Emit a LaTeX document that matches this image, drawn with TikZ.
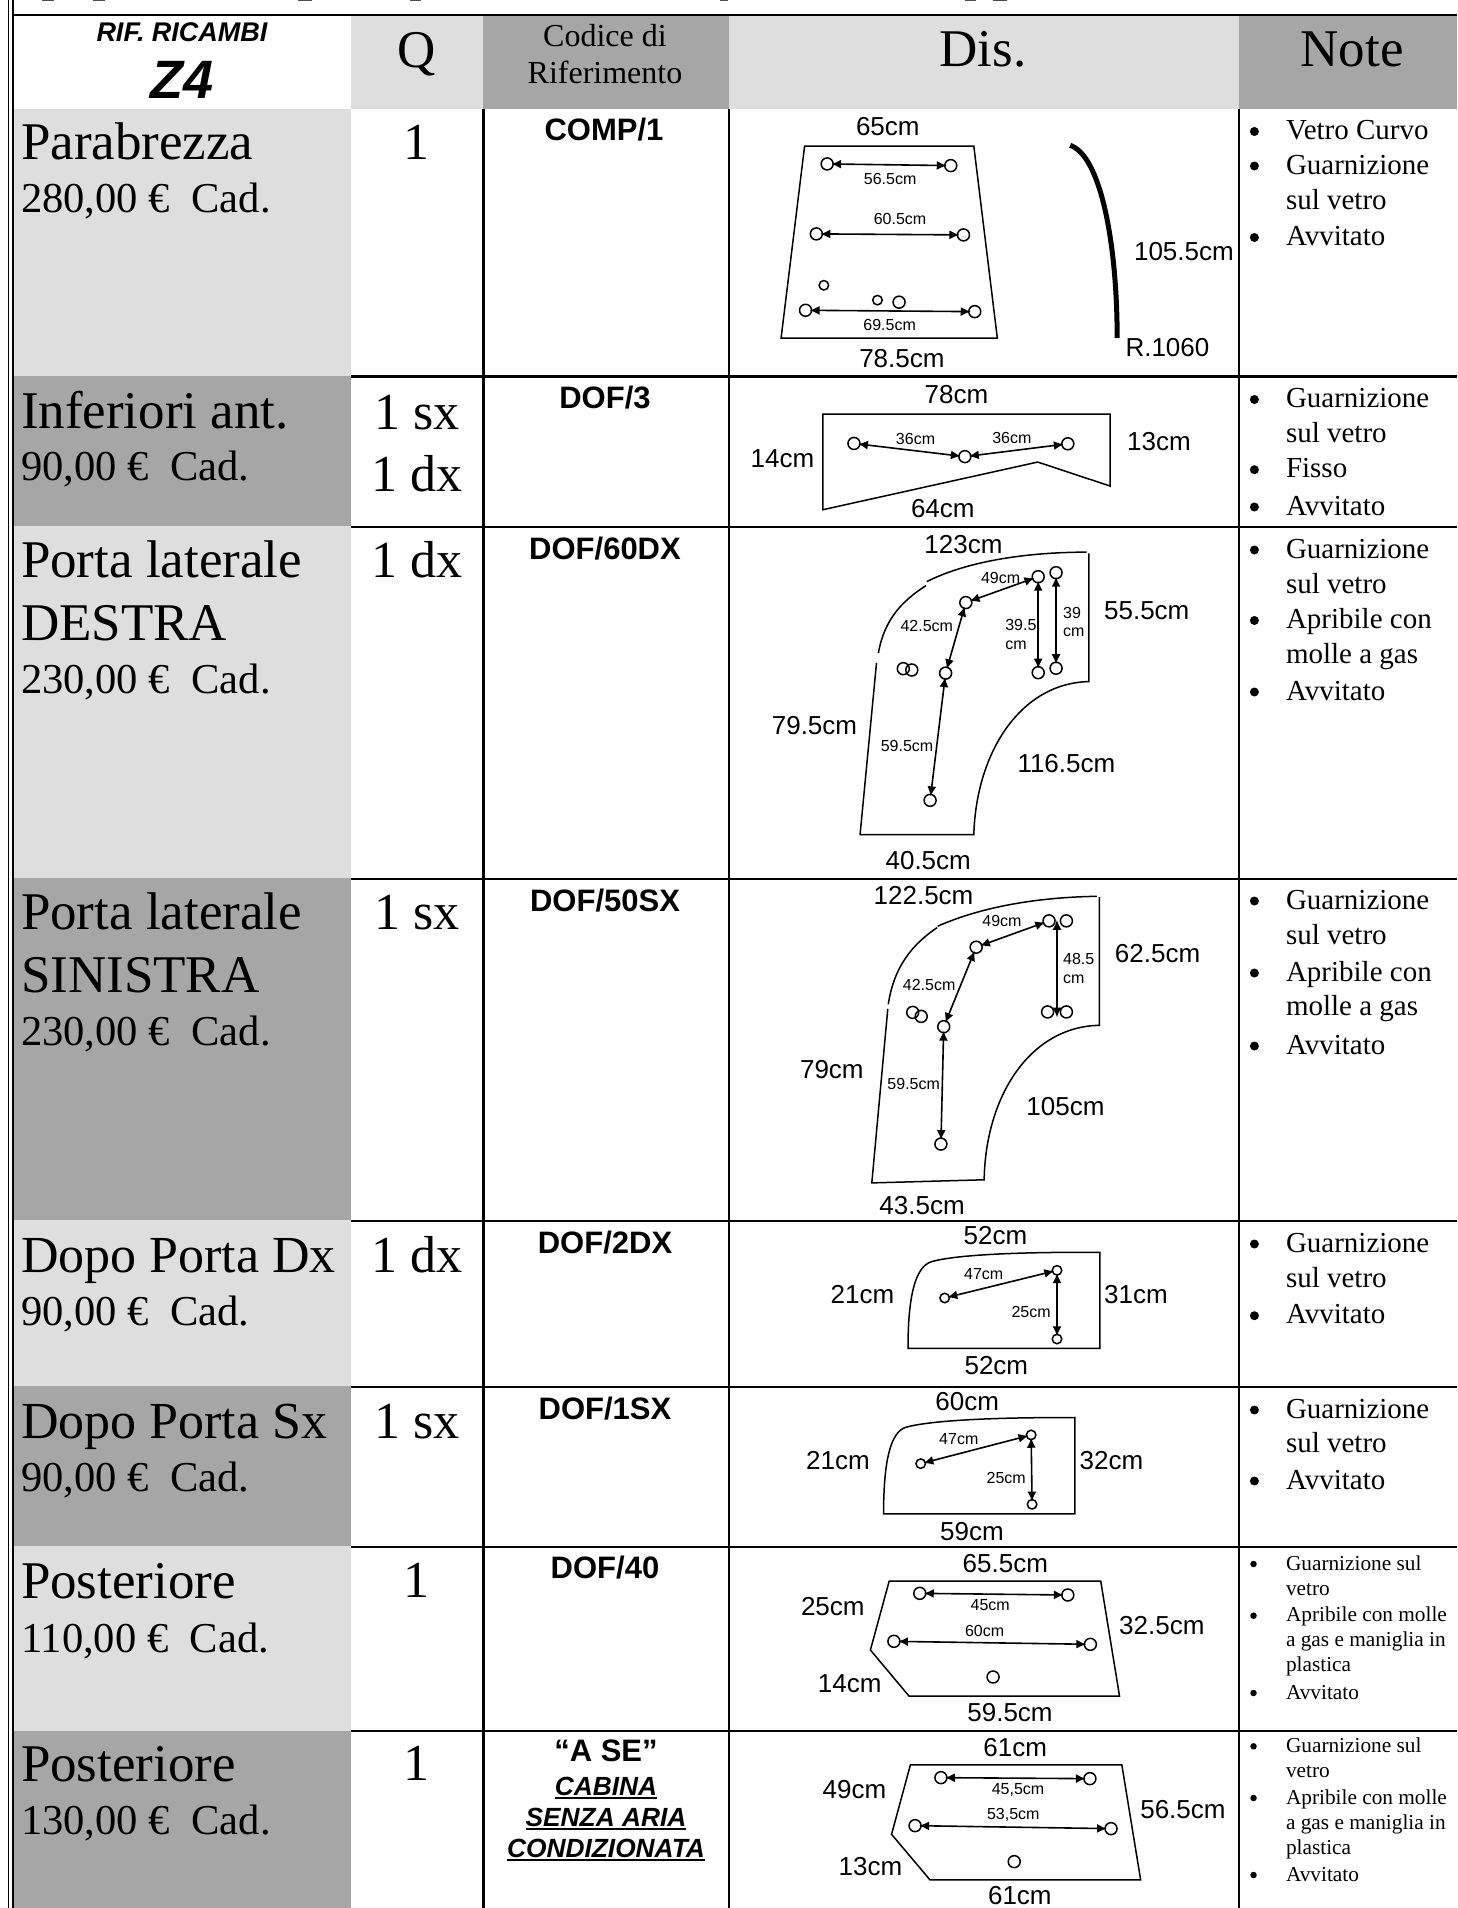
\documentclass[tikz,border=0pt]{standalone}
\usepackage{fontspec}
\setmainfont{Liberation Serif}
\setsansfont{Liberation Sans}
\usetikzlibrary{arrows.meta}
\definecolor{lightcell}{HTML}{DEDEDE}
\definecolor{darkcell}{HTML}{A6A6A6}
\newcounter{tn}
\newcommand\T[3]{\stepcounter{tn}\node[#1] (t\arabic{tn}) at (#2) {#3};}
\newcommand\NB[2]{\stepcounter{tn}\node[bullet] (t\arabic{tn}) at (1254.4,#1-8) {};\T{notetxt}{1286,#1}{#2}}
\newcommand\NC[2]{\T{notetxt}{1286,#1}{#2}}
\newcommand\SB[2]{\stepcounter{tn}\node[sbullet] (t\arabic{tn}) at (1253.5,#1-6) {};\T{snotetxt}{1286,#1}{#2}}
\newcommand\SC[2]{\T{snotetxt}{1286,#1}{#2}}
\newcommand\ulx[1]{\setbox0\hbox{#1}\rlap{\rule[-4pt]{\wd0}{2pt}}\box0}
\tikzset{
  allnodes/.style={inner sep=0pt,outer sep=0pt},
  nametxt/.style={allnodes,anchor=base west,font={\fontsize{53pt}{53pt}\selectfont}},
  namenarrow/.style={allnodes,anchor=base west,font={\fontsize{52pt}{52pt}\selectfont}},
  pricetxt/.style={allnodes,anchor=base west,font={\fontsize{42.6pt}{42pt}\selectfont}},
  qtytxt/.style={allnodes,anchor=base,font={\fontsize{52pt}{52pt}\selectfont}},
  headtxt/.style={allnodes,anchor=base,font={\fontsize{53pt}{53pt}\selectfont}},
  headsmall/.style={allnodes,anchor=base,font={\fontsize{32pt}{32pt}\selectfont}},
  codetxt/.style={allnodes,anchor=base,font={\sffamily\bfseries\fontsize{31pt}{31pt}\selectfont}},
  codeit/.style={allnodes,anchor=base,font={\sffamily\bfseries\itshape\fontsize{26.3pt}{26pt}\selectfont}},
  notetxt/.style={allnodes,anchor=base west,font={\fontsize{29pt}{29pt}\selectfont}},
  snotetxt/.style={allnodes,anchor=base west,font={\fontsize{21.3pt}{21pt}\selectfont}},
  bullet/.style={allnodes,circle,fill=black,minimum size=9pt},
  sbullet/.style={allnodes,circle,fill=black,minimum size=6.5pt},
  biglab/.style={allnodes,anchor=base,font={\sffamily\fontsize{26pt}{26pt}\selectfont}},
  smalab/.style={allnodes,anchor=base,font={\sffamily\fontsize{16pt}{16pt}\selectfont}},
  smaleft/.style={allnodes,anchor=base west,font={\sffamily\fontsize{16pt}{16pt}\selectfont}},
  hole/.style={allnodes,circle,draw=black,line width=1.5pt,minimum size=12pt},
  shole/.style={allnodes,circle,draw=black,line width=1.5pt,minimum size=9.5pt},
  dimline/.style={<->,>={Latex[length=10pt,width=9pt]},line width=1.6pt,shorten <=-2pt,shorten >=-2pt},
  outl/.style={line width=1.5pt,line join=miter},
  grid/.style={line width=2.2pt},
}
\begin{document}
\begin{tikzpicture}[x=1pt,y=-1pt]
\useasboundingbox (0,0) rectangle (1457,1908);
% cell fills
\fill[lightcell] (351,15) rectangle (483,109);
\fill[darkcell] (483,15) rectangle (728.5,109);
\fill[lightcell] (728.5,15) rectangle (1239,109);
\fill[darkcell] (1239,15) rectangle (1457,109);
\fill[lightcell] (13,109) rectangle (351,376);
\fill[darkcell] (13,376) rectangle (351,526);
\fill[lightcell] (13,526) rectangle (351,878);
\fill[darkcell] (13,878) rectangle (351,1220);
\fill[lightcell] (13,1220) rectangle (351,1386);
\fill[darkcell] (13,1386) rectangle (351,1546);
\fill[lightcell] (13,1546) rectangle (351,1730.5);
\fill[darkcell] (13,1730.5) rectangle (351,1908);
% clipped remains of a line above the table
\foreach \a/\b in {42/54,93/105,298/312,410/421,720/728,965/976,993/1007}
  \draw[line width=1.4pt,black!70] (\a,0) -- (\b,0);
% grid
\draw[line width=1.6pt] (8.5,0) -- (8.5,1908);
\draw[line width=1.6pt] (13.2,0) -- (13.2,1908);
\draw[line width=2.6pt] (13,15) -- (1457,15);
\foreach \y in {376.5,527,879,1220.7,1386.7,1546.7,1730.8}
  \draw[grid] (351,\y) -- (1457,\y);
\foreach \x in {483.5,728.7,1239}
  \draw[grid] (\x,109) -- (\x,1908);

% header
\T{allnodes,anchor=base,font={\sffamily\bfseries\itshape\fontsize{27pt}{27pt}\selectfont}}{182,42}{RIF. RICAMBI}
\T{allnodes,anchor=base,font={\sffamily\bfseries\itshape\fontsize{54pt}{54pt}\selectfont}}{182,99}{Z4}
\T{headtxt}{417,68}{Q}
\T{headsmall}{605,47}{Codice di}
\T{headsmall}{605,84}{Riferimento}
\T{headtxt}{983,67}{Dis.}
\T{headtxt}{1352,67}{Note}

% first column
\T{nametxt}{21,159}{Parabrezza}
\T{pricetxt}{21,212}{280,00 €~~Cad.}
\T{nametxt}{21,428}{Inferiori ant.}
\T{pricetxt}{21,480}{90,00 €~~Cad.}
\T{nametxt}{21,577}{Porta laterale}
\T{nametxt}{21,640.4}{DESTRA}
\T{pricetxt}{21,693.6}{230,00 €~~Cad.}
\T{nametxt}{21,929.5}{Porta laterale}
\T{nametxt}{21,992.6}{SINISTRA}
\T{pricetxt}{21,1045.8}{230,00 €~~Cad.}
\T{namenarrow}{21,1272}{Dopo Porta Dx}
\T{pricetxt}{21,1325}{90,00 €~~Cad.}
\T{namenarrow}{21,1438}{Dopo Porta Sx}
\T{pricetxt}{21,1491}{90,00 €~~Cad.}
\T{nametxt}{21,1598}{Posteriore}
\T{pricetxt}{21,1652}{110,00 €~~Cad.}
\T{nametxt}{21,1781}{Posteriore}
\T{pricetxt}{21,1834}{130,00 €~~Cad.}

% quantity column
\T{qtytxt}{416.5,159}{1}
\T{qtytxt}{417,429}{1 sx}
\T{qtytxt}{417,491.5}{1 dx}
\T{qtytxt}{417,577}{1 dx}
\T{qtytxt}{417,929.5}{1 sx}
\T{qtytxt}{417,1272}{1 dx}
\T{qtytxt}{417,1438}{1 sx}
\T{qtytxt}{416.5,1597}{1}
\T{qtytxt}{416.5,1780}{1}

% code column
\T{codetxt}{604,141}{COMP/1}
\T{codetxt}{605,408.4}{DOF/3}
\T{codetxt}{605,559}{DOF/60DX}
\T{codetxt}{605,911}{DOF/50SX}
\T{codetxt}{605,1253}{DOF/2DX}
\T{codetxt}{605,1419}{DOF/1SX}
\T{codetxt}{605,1578}{DOF/40}
\T{codetxt}{606,1761}{“A SE”}
\T{codeit}{606,1795}{\ulx{CABINA}}
\T{codeit}{606,1826}{\ulx{SENZA ARIA}}
\T{codeit}{606,1857}{\ulx{CONDIZIONATA}}

% notes column
\NB{139.5}{Vetro Curvo}
\NB{174}{Guarnizione}
\NC{209.6}{sul vetro}
\NB{245.5}{Avvitato}
\NB{407.5}{Guarnizione}
\NC{442}{sul vetro}
\NB{477.7}{Fisso}
\NB{515}{Avvitato}
\NB{558}{Guarnizione}
\NC{593}{sul vetro}
\NB{628.5}{Apribile con}
\NC{663.5}{molle a gas}
\NB{700}{Avvitato}
\NB{909}{Guarnizione}
\NC{944}{sul vetro}
\NB{981}{Apribile con}
\NC{1015.5}{molle a gas}
\NB{1054}{Avvitato}
\NB{1252}{Guarnizione}
\NC{1287}{sul vetro}
\NB{1323.7}{Avvitato}
\NB{1418}{Guarnizione}
\NC{1452.7}{sul vetro}
\NB{1489}{Avvitato}
\SB{1570}{Guarnizione sul}
\SC{1595}{vetro}
\SB{1621.7}{Apribile con molle}
\SC{1646.7}{a gas e maniglia in}
\SC{1671.7}{plastica}
\SB{1699}{Avvitato}
\SB{1752.3}{Guarnizione sul}
\SC{1777}{vetro}
\SB{1804}{Apribile con molle}
\SC{1829}{a gas e maniglia in}
\SC{1854}{plastica}
\SB{1881}{Avvitato}

% ---------- drawings, rows 1-2
\begin{scope}[shift={(720,0)},x=0.47pt,y=-0.338pt]
  \draw[outl] (180,432) -- (540,432) -- (590,1000) -- (130,1000) -- cycle;
  \node[hole] (pa) at (228,485) {};
  \node[hole] (pb) at (491,490) {};
  \node[hole] (pc) at (205,692) {};
  \node[hole] (pd) at (518,695) {};
  \node[hole] (pe) at (182,918) {};
  \node[hole] (pf) at (542,922) {};
  \node[shole] (pg) at (221,844) {};
  \node[shole] (ph) at (335,888) {};
  \node[hole] (pi) at (381,894) {};
  \draw[dimline] (pa) -- (pb);
  \draw[dimline] (pc) -- (pd);
  \draw[dimline] (pe) -- (pf);
  \T{smalab}{362,545}{56.5cm}
  \T{smalab}{383,663}{60.5cm}
  \T{smalab}{361,977}{69.5cm}
  \T{biglab}{357,402}{65cm}
  \T{biglab}{387,1088}{78.5cm}
  \T{biglab}{987,772}{105.5cm}
  \T{biglab}{952,1055}{R.1060}
  \draw[line width=5pt] (745,430) .. controls (810,460) and (845,720) .. (845,1000);
  % row 2
  \draw[outl] (219,1225) -- (830,1225) -- (830,1438) -- (676,1367) -- (219,1508) -- cycle;
  \node[hole] (ia) at (285,1312) {};
  \node[hole] (ib) at (521,1351) {};
  \node[hole] (ic) at (740,1313) {};
  \draw[dimline] (ia) -- (ib);
  \draw[dimline] (ib) -- (ic);
  \T{smalab}{416,1315}{36cm}
  \T{smalab}{621,1312}{36cm}
  \T{biglab}{503,1195}{78cm}
  \T{biglab}{133,1382}{14cm}
  \T{biglab}{934,1334}{13cm}
  \T{biglab}{474,1532}{64cm}
\end{scope}

% ---------- doors
\begin{scope}[shift={(720,520)},x=0.47pt,y=-0.4464pt]
  \draw[outl] (440,138) .. controls (540,85) and (680,72) .. (780,72);
  \draw[outl] (785,75) -- (785,362) .. controls (640,365) and (545,520) .. (540,705) -- (298,705) -- (333,320);
  \draw[outl] (337,298) .. controls (350,220) and (390,180) .. (438,147);
  \node[hole] (da) at (677,127) {};
  \node[hole] (db) at (715,118) {};
  \node[hole] (dc) at (523,185) {};
  \node[hole] (dd) at (480,343) {};
  \node[hole] (de) at (447,628) {};
  \node[hole] (df) at (677,342) {};
  \node[hole] (dg) at (715,332) {};
  \node[hole] (dh) at (390,333) {};
  \node[hole] (di) at (408,336) {};
  \draw[dimline] (dc) -- (da);
  \draw[dimline] (dc) -- (dd);
  \draw[dimline] (dd) -- (de);
  \draw[dimline] (da) -- (df);
  \draw[dimline] (db) -- (dg);
  \T{smalab}{597,142}{49cm}
  \T{smalab}{440,250}{42.5cm}
  \T{smalab}{398,518}{59.5cm}
  \T{smaleft}{607,248}{39.5}
  \T{smaleft}{607,290}{cm}
  \T{smaleft}{730,220}{39}
  \T{smaleft}{730,262}{cm}
  \T{biglab}{518,75}{123cm}
  \T{biglab}{908,222}{55.5cm}
  \T{biglab}{201,480}{79.5cm}
  \T{biglab}{737,565}{116.5cm}
  \T{biglab}{443,782}{40.5cm}
  % left door
  \draw[outl] (463,910) .. controls (560,865) and (680,845) .. (802,843);
  \draw[outl] (807,845) -- (807,1132) .. controls (660,1135) and (565,1290) .. (562,1478) -- (323,1485) -- (357,1095);
  \draw[outl] (358,1085) .. controls (370,1000) and (410,950) .. (462,913);
  \node[hole] (sa) at (700,898) {};
  \node[hole] (sb) at (737,898) {};
  \node[hole] (sc) at (545,957) {};
  \node[hole] (sd) at (476,1135) {};
  \node[hole] (se) at (470,1398) {};
  \node[hole] (sf) at (697,1102) {};
  \node[hole] (sg) at (737,1102) {};
  \node[hole] (sh) at (410,1103) {};
  \node[hole] (si) at (428,1112) {};
  \coordinate (sj) at (717,900);
  \coordinate (sk) at (717,1110);
  \draw[dimline] (sc) -- (sa);
  \draw[dimline] (sc) -- (sd);
  \draw[dimline] (sd) -- (se);
  \draw[dimline] (sj) -- (sk);
  \T{smalab}{600,910}{49cm}
  \T{smalab}{445,1053}{42.5cm}
  \T{smalab}{412,1275}{59.5cm}
  \T{smaleft}{730,995}{48.5}
  \T{smaleft}{730,1038}{cm}
  \T{biglab}{433,862}{122.5cm}
  \T{biglab}{931,992}{62.5cm}
  \T{biglab}{238,1250}{79cm}
  \T{biglab}{735,1335}{105cm}
  \T{biglab}{430,1555}{43.5cm}
\end{scope}

% ---------- rows 5-6
\begin{scope}[shift={(720,1210)},x=0.47pt,y=-0.3333pt]
  \draw[outl] (400,415) -- (808,415) -- (808,127) -- (740,127) .. controls (620,128) and (500,135) .. (450,155) .. controls (415,170) and (400,260) .. (400,415) -- cycle;
  \node[shole] (ea) at (478,264) {};
  \node[shole] (eb) at (717,181) {};
  \node[shole] (ec) at (717,387) {};
  \draw[dimline] (ea) -- (eb);
  \draw[dimline] (eb) -- (ec);
  \T{smalab}{561,208}{47cm}
  \T{smalab}{662,323}{25cm}
  \T{biglab}{586,103}{52cm}
  \T{biglab}{303,280}{21cm}
  \T{biglab}{885,280}{31cm}
  \T{biglab}{588,495}{52cm}
  % row 6
  \draw[outl] (348,912) -- (755,912) -- (755,623) -- (690,623) .. controls (570,624) and (445,632) .. (395,652) .. controls (362,667) and (348,757) .. (348,912) -- cycle;
  \node[shole] (fa) at (427,761) {};
  \node[shole] (fb) at (662,675) {};
  \node[shole] (fc) at (664,883) {};
  \draw[dimline] (fa) -- (fb);
  \draw[dimline] (fb) -- (fc);
  \T{smalab}{508,705}{47cm}
  \T{smalab}{609,820}{25cm}
  \T{biglab}{526,603}{60cm}
  \T{biglab}{251,778}{21cm}
  \T{biglab}{833,778}{32cm}
  \T{biglab}{536,992}{59cm}
\end{scope}

% ---------- rows 7-8
\begin{scope}[shift={(720,1540)},x=0.47pt,y=-0.3333pt]
  \draw[outl] (360,123) -- (810,123) -- (850,468) -- (402,468) -- (320,330) -- cycle;
  \node[hole] (ga) at (425,160) {};
  \node[hole] (gb) at (740,165) {};
  \node[hole] (gc) at (370,304) {};
  \node[hole] (gd) at (788,313) {};
  \node[hole] (ge) at (581,411) {};
  \draw[dimline] (ga) -- (gb);
  \draw[dimline] (gc) -- (gd);
  \T{smalab}{575,212}{45cm}
  \T{smalab}{563,288}{60cm}
  \T{biglab}{607,97}{65.5cm}
  \T{biglab}{240,227}{25cm}
  \T{biglab}{940,284}{32.5cm}
  \T{biglab}{276,458}{14cm}
  \T{biglab}{617,545}{59.5cm}
  % row 8
  \draw[outl] (405,675) -- (855,675) -- (895,1020) -- (447,1020) -- (365,883) -- cycle;
  \node[hole] (ha) at (470,713) {};
  \node[hole] (hb) at (787,716) {};
  \node[hole] (hc) at (415,857) {};
  \node[hole] (hd) at (832,866) {};
  \node[hole] (he) at (626,965) {};
  \draw[dimline] (ha) -- (hb);
  \draw[dimline] (hc) -- (hd);
  \T{smalab}{634,765}{45,5cm}
  \T{smalab}{624,840}{53,5cm}
  \T{biglab}{628,650}{61cm}
  \T{biglab}{286,775}{49cm}
  \T{biglab}{985,835}{56.5cm}
  \T{biglab}{320,1008}{13cm}
  \T{biglab}{638,1095}{61cm}
\end{scope}
\end{tikzpicture}
\end{document}
